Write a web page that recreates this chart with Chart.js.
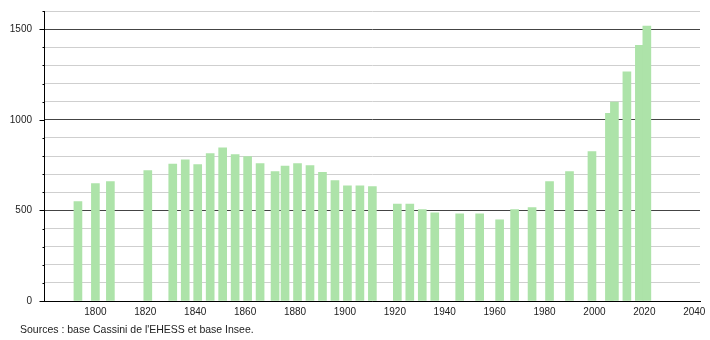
<!DOCTYPE html>
<html>
<head>
<meta charset="utf-8">
<script src="https://cdn.jsdelivr.net/npm/chart.js@4/dist/chart.umd.min.js"></script>
<style>
    html, body { margin: 0; padding: 0; background: #fff; }
    #wrap { position: relative; width: 710px; height: 340px; }
    #source {
        position: absolute;
        left: 20px;
        top: 323px;
        font: 10.5px "Liberation Sans", Arial, sans-serif;
        color: #222;
        white-space: nowrap;
    }
</style>
</head>
<body>
<div id="wrap">
    <canvas id="chart" width="710" height="340"></canvas>
    <div id="source">Sources : base Cassini de l'EHESS et base Insee.</div>
</div>
<script>
// années de recensement et population
const years = [
    1793, 1800, 1806, 1821, 1831, 1836, 1841, 1846, 1851, 1856,
    1861, 1866, 1872, 1876, 1881, 1886, 1891, 1896, 1901, 1906,
    1911, 1921, 1926, 1931, 1936, 1946, 1954, 1962, 1968, 1975,
    1982, 1990, 1999, 2006, 2008, 2013, 2018, 2021,
];
const population = [
    548, 648, 659, 720, 755, 779, 753, 814, 845, 808,
    797, 758, 714, 745, 758, 747, 710, 664, 636, 636,
    631, 535, 535, 504, 487, 481, 481, 448, 504, 515,
    659, 714, 825, 1036, 1098, 1264, 1411, 1517,
];
const xTicks = [1800, 1820, 1840, 1860, 1880, 1900, 1920, 1940, 1960, 1980, 2000, 2020, 2040];
const yMajor = [0, 500, 1000, 1500];

const font = { family: "'Liberation Sans', Arial, sans-serif", size: 10 };

// petits traits sur l'axe y (longs pour 500, courts pour 100)
const yTickMarks = {
    id: "yTickMarks",
    afterDraw(chart) {
        const y = chart.scales.y;
        const ctx = chart.ctx;
        const x0 = Math.round(chart.chartArea.left) + 0.5;
        ctx.save();
        ctx.strokeStyle = "#000";
        ctx.lineWidth = 1;
        for (let v = 0; v <= 1600; v += 100) {
            const py = Math.round(y.getPixelForValue(v)) + 0.5;
            const len = v % 500 === 0 ? 5 : 2;
            ctx.beginPath();
            ctx.moveTo(x0 - len, py);
            ctx.lineTo(x0, py);
            ctx.stroke();
        }
        ctx.restore();
    },
};

new Chart(document.getElementById("chart"), {
    type: "bar",
    data: {
        datasets: [{
            data: years.map((yr, i) => ({ x: yr, y: population[i] })),
            backgroundColor: "#ade3a9",
            borderWidth: 0,
            barThickness: 8,
        }],
    },
    options: {
        responsive: false,
        animation: false,
        layout: { padding: { top: 11, right: 10, bottom: 19, left: 0 } },
        plugins: {
            legend: { display: false },
            tooltip: { enabled: false },
        },
        scales: {
            x: {
                type: "linear",
                offset: false,
                min: 1779.4,
                max: 2042.3,
                afterFit: (scale) => {
                    scale.height = 20;
                    scale.paddingLeft = 0;
                    scale.paddingRight = 0;
                },
                afterBuildTicks: (scale) => {
                    scale.ticks = xTicks.map((v) => ({ value: v }));
                },
                grid: { display: false, drawTicks: false, offset: false },
                border: { color: "#000", width: 1 },
                ticks: {
                    font: font,
                    color: "#222",
                    padding: 5,
                    maxRotation: 0,
                    autoSkip: false,
                    callback: (v) => String(v),
                },
            },
            y: {
                min: 0,
                max: 1600,
                afterFit: (scale) => {
                    scale.width = 44;
                    scale.paddingTop = 0;
                    scale.paddingBottom = 0;
                },
                afterBuildTicks: (scale) => {
                    const t = [];
                    for (let v = 0; v <= 1600; v += 100) t.push({ value: v });
                    scale.ticks = t;
                },
                grid: {
                    drawTicks: false,
                    color: (c) => (c.tick && c.tick.value % 500 === 0 ? "#444" : "#cfcfcf"),
                    lineWidth: 1,
                },
                border: { color: "#000", width: 1 },
                ticks: {
                    font: font,
                    color: "#222",
                    padding: 12,
                    autoSkip: false,
                    callback: (v) => (yMajor.includes(v) ? String(v) : ""),
                },
            },
        },
    },
    plugins: [yTickMarks],
});
</script>
</body>
</html>
